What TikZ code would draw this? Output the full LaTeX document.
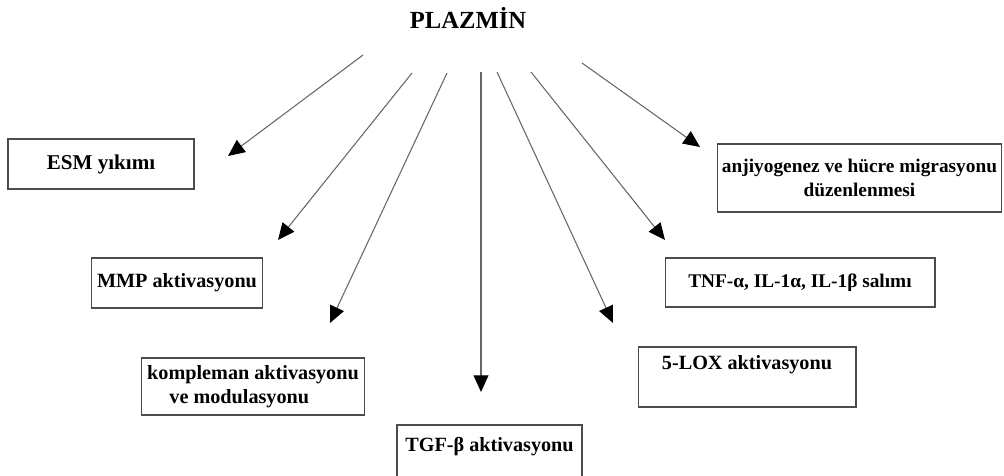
\documentclass[tikz,border=0pt]{standalone}
\usepackage{fontspec}
\setmainfont{Liberation Serif}
\usetikzlibrary{arrows.meta}

\begin{document}
\begin{tikzpicture}[x=0.02cm,y=-0.02cm,
  kutu/.style={draw=black!70,line width=0.6pt,rectangle,font=\bfseries\fontsize{11.5}{13.5}\selectfont},
  ok/.style={draw=black!60,line width=0.6pt,-{Triangle[length=9.5pt,width=8.5pt,color=black]}}]
  \useasboundingbox (0,0) rectangle (1004,476);
  \node (plazmin) at (468,18) [font=\bfseries\fontsize{14}{16}\selectfont] {PLAZMİN};
  % kutular
  \node (esm) at (101,164) [kutu,minimum width=3.72cm,minimum height=1cm,font=\bfseries\fontsize{12}{14}\selectfont] {ESM yıkımı};
  \node (mmp) at (177,283) [kutu,minimum width=3.4cm,minimum height=1cm] {MMP aktivasyonu};
  \node (komp) at (253,386.5) [kutu,minimum width=4.4cm,minimum height=1.14cm,align=left] {kompleman aktivasyonu\\\hspace{1.1em}ve modulasyonu};
  \node (tgf) at (489.5,453.5) [kutu,minimum width=3.7cm,minimum height=1.14cm,text depth=0.36cm] {TGF-β aktivasyonu};
  \node (lox) at (747,377) [kutu,minimum width=4.36cm,minimum height=1.2cm,text depth=0.6cm] {5-LOX aktivasyonu};
  \node (tnf) at (800,282.5) [kutu,minimum width=5.4cm,minimum height=0.98cm,font=\bfseries\fontsize{11}{13}\selectfont] {TNF-α, IL-1α, IL-1β\ salımı};
  \node (anj) at (859.5,178) [kutu,minimum width=5.68cm,minimum height=1.36cm,inner xsep=1pt,align=center,font=\bfseries\fontsize{11}{13.5}\selectfont] {anjiyogenez ve hücre migrasyonu\\düzenlenmesi};
  % oklarin uclari
  \coordinate (s1) at (363,55);  \coordinate (e1) at (228,156);
  \coordinate (s2) at (412,73);  \coordinate (e2) at (278,240);
  \coordinate (s3) at (447,73);  \coordinate (e3) at (330,323);
  \coordinate (s4) at (481,72);  \coordinate (e4) at (481,392);
  \coordinate (s5) at (497,72);  \coordinate (e5) at (613,323);
  \coordinate (s6) at (531,72);  \coordinate (e6) at (665,240);
  \coordinate (s7) at (582,63);  \coordinate (e7) at (700,147);
  \foreach \i in {1,...,7}
    \draw[ok] (s\i) to (e\i);
\end{tikzpicture}
\end{document}
